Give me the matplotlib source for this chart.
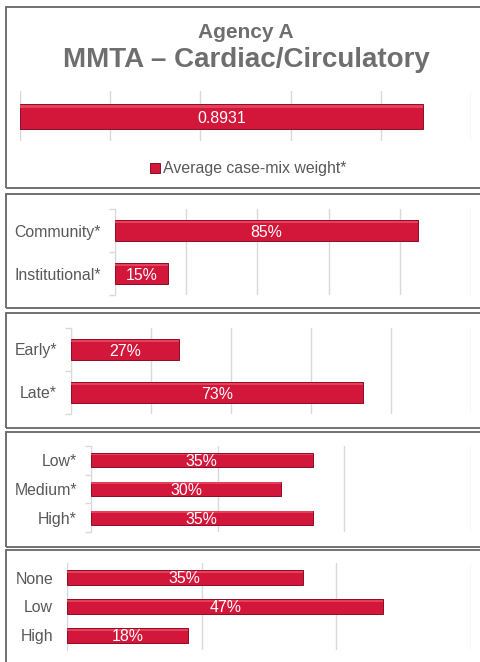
import matplotlib
matplotlib.use("Agg")
import matplotlib.pyplot as plt
from matplotlib.patches import Rectangle

plt.rcParams['font.family'] = ['Liberation Sans', 'DejaVu Sans']

# data
title_top = "Agency A"
title_main = "MMTA \u2013 Cardiac/Circulatory"
cmw_label = "Average case-mix weight*"
cmw_value = [0.8931]

setting_cats = ["Community*", "Institutional*"]
setting_vals = [0.85, 0.15]

timing_cats = ["Early*", "Late*"]
timing_vals = [0.27, 0.73]

risk_cats = ["Low*", "Medium*", "High*"]
risk_vals = [0.35, 0.30, 0.35]

comorb_cats = ["None", "Low", "High"]
comorb_vals = [0.35, 0.47, 0.18]

W, H = 480, 662
RED = '#D3173B'
LIGHT = '#E8405B'
DARK = '#8E0E24'
GRID = '#D9D9D9'
TXT = '#595959'

fig = plt.figure(figsize=(W / 100, H / 100), dpi=100)


def px_axes(left, top, right, bottom):
    return fig.add_axes([left / W, 1 - bottom / H, (right - left) / W, (bottom - top) / H])


def panel_box(left, top, right, bottom):
    fig.patches.append(Rectangle((left / W, 1 - bottom / H), (right - left) / W, (bottom - top) / H,
                                 transform=fig.transFigure, fill=False, edgecolor='#666666', lw=1.3))


def bar_panel(ax, cats, vals, xmax, step, fmt, bracket=True):
    ys = list(range(len(cats)))
    bars = ax.barh(ys, vals, height=0.5, color=RED, edgecolor=DARK, linewidth=0.7, zorder=3)
    # bevel highlight on top edge
    ax.barh([y - 0.2 for y in ys], vals, height=0.06, color=LIGHT, linewidth=0, zorder=4)
    for y, v in zip(ys, vals):
        ax.text(v / 2, y + 0.05, fmt(v), color='white', ha='center', va='center',
                fontsize=11.4, zorder=5)
    ax.set_xlim(0, xmax)
    ax.set_ylim(len(cats) - 0.5, -0.5)
    ticks = [i * step for i in range(int(round(xmax / step)) + 1)]
    ax.set_xticks(ticks)
    ax.xaxis.grid(True, color=GRID, lw=1, zorder=0)
    ax.tick_params(axis='x', length=0, labelbottom=False)
    ax.set_yticks(ys)
    ax.set_yticklabels(cats)
    ax.tick_params(axis='y', length=0, pad=10, labelsize=11.4, labelcolor=TXT)
    if bracket:
        ax.set_yticks([i - 0.5 for i in range(len(cats) + 1)], minor=True)
        ax.tick_params(axis='y', which='minor', length=4, color=GRID, width=1)
    for s in ['top', 'right', 'bottom']:
        ax.spines[s].set_visible(False)
    ax.spines['left'].set_color(GRID)
    ax.set_facecolor('none')
    return bars


# panel 1
panel_box(5.5, 7, 490, 188)
fig.text(246 / W, 1 - 32 / H, title_top, ha='center', va='center', fontsize=15,
         fontweight='bold', color='#6e6e6e')
fig.text(246 / W, 1 - 60 / H, title_main, ha='center', va='center', fontsize=20,
         fontweight='bold', color='#6e6e6e')
ax1 = px_axes(20, 91, 471, 141)
b1 = bar_panel(ax1, [""], cmw_value, 1.0, 0.2, lambda v: f"{v:.4f}", bracket=False)
ax1.spines['left'].set_visible(False)
fig.legend([b1], [cmw_label], loc='center', bbox_to_anchor=(248 / W, 1 - 169 / H),
           frameon=False, fontsize=11.4, handlelength=0.65, handleheight=0.65,
           handletextpad=0.15, labelcolor=TXT)

# panel 2
panel_box(5.5, 194, 490, 308)
ax2 = px_axes(115, 209, 471, 295)
bar_panel(ax2, setting_cats, setting_vals, 1.0, 0.2, lambda v: f"{v:.0%}")

# panel 3
panel_box(5.5, 313, 490, 428)
ax3 = px_axes(71, 328, 471, 414)
bar_panel(ax3, timing_cats, timing_vals, 1.0, 0.2, lambda v: f"{v:.0%}")

# panel 4
panel_box(5.5, 432, 490, 547)
ax4 = px_axes(91, 446, 471, 532)
bar_panel(ax4, risk_cats, risk_vals, 0.6, 0.2, lambda v: f"{v:.0%}")

# panel 5
panel_box(5.5, 550, 490, 680)
ax5 = px_axes(67, 563, 471, 650)
bar_panel(ax5, comorb_cats, comorb_vals, 0.6, 0.2, lambda v: f"{v:.0%}", bracket=False)

fig.savefig('out.png', dpi=100)
